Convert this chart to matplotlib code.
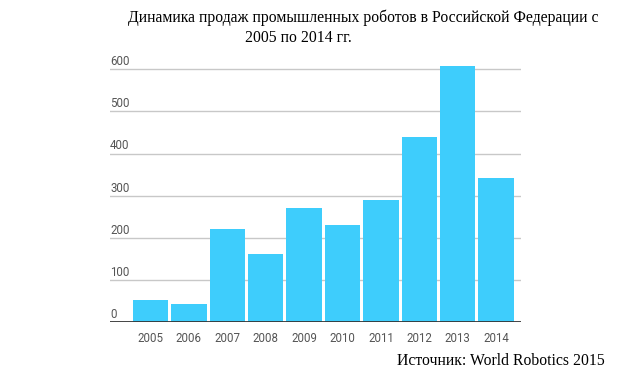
import matplotlib.pyplot as plt
from matplotlib.transforms import blended_transform_factory

years = ["2005", "2006", "2007", "2008", "2009", "2010", "2011", "2012", "2013", "2014"]
sales = [52, 42, 221, 161, 271, 230, 290, 440, 609, 341]
y_ticks = [0, 100, 200, 300, 400, 500, 600]

fig = plt.figure(figsize=(6.31, 3.80), dpi=100)
ax = fig.add_axes([110 / 631, 1 - 322 / 380, 410.7 / 631, 269.5 / 380])

x = list(range(len(years)))
ax.bar(x, sales, width=0.92, color="#3ecdfc", zorder=2)

ax.set_xlim(-1.055, 9.64)
ax.set_ylim(0, 640)

for t in y_ticks[1:]:
    ax.axhline(t, color="#c8c8c8", lw=1, zorder=1)
ax.axhline(0, color="#333333", lw=2, zorder=3)

trans = blended_transform_factory(ax.transAxes, ax.transData)
for t in y_ticks:
    ax.text(0.0, t + 18, str(t), transform=trans, ha="left", va="center",
            fontsize=8.3, color="#555555", family="Roboto")

ax.set_yticks([])
ax.set_xticks(x)
ax.set_xticklabels(years, fontsize=8.3, color="#555555", family="Roboto")
ax.tick_params(axis="x", length=0, pad=7)
for s in ax.spines.values():
    s.set_visible(False)

fig.text(128 / 631, 1 - 22 / 380, "Динамика продаж промышленных роботов в Российской Федерации с",
         ha="left", va="baseline", fontsize=11.3, family="Liberation Serif")
fig.text(245 / 631, 1 - 42 / 380, "2005 по 2014 гг.",
         ha="left", va="baseline", fontsize=11.3, family="Liberation Serif")
fig.text(605 / 631, 1 - 365 / 380, "Источник: World Robotics 2015",
         ha="right", va="baseline", fontsize=11.3, family="Liberation Serif")

fig.savefig("out.png", dpi=100)
